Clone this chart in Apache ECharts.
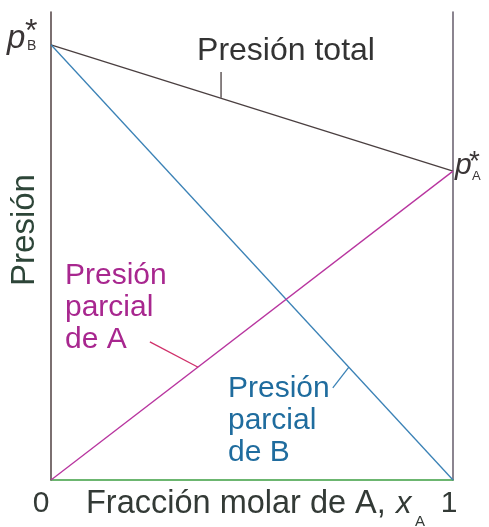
<!DOCTYPE html>
<html>
<head>
<meta charset="utf-8">
<script src="https://cdn.jsdelivr.net/npm/echarts@6/dist/echarts.min.js"></script>
<style>
  html, body { margin: 0; padding: 0; background: #fff; }
  #chart { width: 489px; height: 527px; }
</style>
</head>
<body>
<div id="chart"></div>
<script>
// fracción molar de A (extremos del eje)
const xFrac = [0, 1];
// presiones (escala 0-100)
const pTotal = [93, 66];
const pB = [93, 0];
const pA = [0, 66];
const xTicks = ["0", "1"];

// líneas guía de las etiquetas [x, y]
const leaderTotal = [[0.423, 87.2], [0.423, 81.7]];
const leaderA = [[0.246, 29.5], [0.366, 24.1]];
const leaderB = [[0.701, 19.7], [0.741, 24.1]];

const font = '"Liberation Sans", Arial, sans-serif';
const cMag = "#b8359f";
const cBlue = "#3b82b6";
const cTotal = "#4a3f40";

const chart = echarts.init(document.getElementById("chart"));

const toPairs = (ys) => xFrac.map((x, i) => [x, ys[i]]);

const lineSeries = (data, color, width) => ({
  type: "line",
  data: data,
  symbol: "none",
  silent: true,
  animation: false,
  lineStyle: { color: color, width: width },
});

chart.setOption({
  animation: false,
  grid: { left: 51, right: 36, top: 12, bottom: 47 },
  xAxis: {
    type: "value",
    min: 0,
    max: 1,
    interval: 1,
    axisLine: { show: true, lineStyle: { color: "#3c9e42", width: 1.6 } },
    axisTick: { show: false },
    splitLine: { show: false },
    axisLabel: {
      margin: 9,
      color: "#333a36",
      fontFamily: font,
      fontSize: 30,
      formatter: (v) => (v === 0 ? "{l|" + xTicks[0] + "}" : "{r|" + xTicks[1] + "}"),
      rich: {
        l: { fontSize: 30, fontFamily: font, color: "#333a36", padding: [0, 20, 0, 0] },
        r: { fontSize: 30, fontFamily: font, color: "#333a36", padding: [0, 8, 0, 0] },
      },
    },
  },
  yAxis: [
    {
      type: "value",
      min: 0,
      max: 100,
      position: "left",
      axisLine: { show: true, lineStyle: { color: "#5b4c4d", width: 1.6 } },
      axisTick: { show: false },
      axisLabel: { show: false },
      splitLine: { show: false },
    },
    {
      type: "value",
      min: 0,
      max: 100,
      position: "right",
      axisLine: { show: true, lineStyle: { color: "#6e6674", width: 1.6 } },
      axisTick: { show: false },
      axisLabel: { show: false },
      splitLine: { show: false },
    },
  ],
  series: [
    lineSeries(toPairs(pTotal), cTotal, 1.3),
    lineSeries(toPairs(pB), cBlue, 1.3),
    lineSeries(toPairs(pA), cMag, 1.3),
    lineSeries(leaderTotal, cTotal, 1.3),
    lineSeries(leaderA, "#d0306a", 1.3),
    lineSeries(leaderB, cBlue, 1.3),
  ],
  graphic: [
    // título del eje y
    {
      type: "text",
      x: 25,
      y: 230,
      rotation: Math.PI / 2,
      style: {
        text: "Presión",
        font: "33px " + font,
        fill: "#2d4538",
        align: "center",
        verticalAlign: "middle",
      },
    },
    // título del eje x
    {
      type: "text",
      x: 86,
      y: 504,
      style: {
        text: "Fracción molar de A,",
        font: "32.5px " + font,
        fill: "#333a36",
        align: "left",
        verticalAlign: "middle",
      },
    },
    {
      type: "text",
      x: 396,
      y: 504,
      style: {
        text: "x",
        font: "italic 31px " + font,
        fill: "#333a36",
        align: "left",
        verticalAlign: "middle",
      },
    },
    {
      type: "text",
      x: 415,
      y: 522,
      style: { text: "A", font: "15px " + font, fill: "#333a36", verticalAlign: "middle" },
    },
    // p*B
    {
      type: "text",
      x: 7,
      y: 39,
      style: { text: "p", font: "italic 33px " + font, fill: "#3a3536", verticalAlign: "middle" },
    },
    {
      type: "text",
      x: 25,
      y: 32,
      style: { text: "*", font: "32px " + font, fill: "#3a3536", verticalAlign: "middle" },
    },
    {
      type: "text",
      x: 27,
      y: 46,
      style: { text: "B", font: "14px " + font, fill: "#3a3536", verticalAlign: "middle" },
    },
    // p*A
    {
      type: "text",
      x: 455,
      y: 166,
      style: { text: "p", font: "italic 30px " + font, fill: "#3a3536", verticalAlign: "middle" },
    },
    {
      type: "text",
      x: 469,
      y: 162,
      style: { text: "*", font: "28px " + font, fill: "#3a3536", verticalAlign: "middle" },
    },
    {
      type: "text",
      x: 472,
      y: 176,
      style: { text: "A", font: "13px " + font, fill: "#3a3536", verticalAlign: "middle" },
    },
    // etiquetas
    {
      type: "text",
      x: 286,
      y: 51,
      style: {
        text: "Presión total",
        font: "32px " + font,
        fill: "#333333",
        align: "center",
        verticalAlign: "middle",
      },
    },
    {
      type: "text",
      x: 65,
      y: 260,
      style: {
        text: "Presión\nparcial\nde A",
        font: "30px " + font,
        lineHeight: 32,
        fill: "#a8278f",
        align: "left",
        verticalAlign: "top",
      },
    },
    {
      type: "text",
      x: 228,
      y: 373,
      style: {
        text: "Presión\nparcial\nde B",
        font: "30px " + font,
        lineHeight: 32,
        fill: "#1f6c9e",
        align: "left",
        verticalAlign: "top",
      },
    },
  ],
});
</script>
</body>
</html>
